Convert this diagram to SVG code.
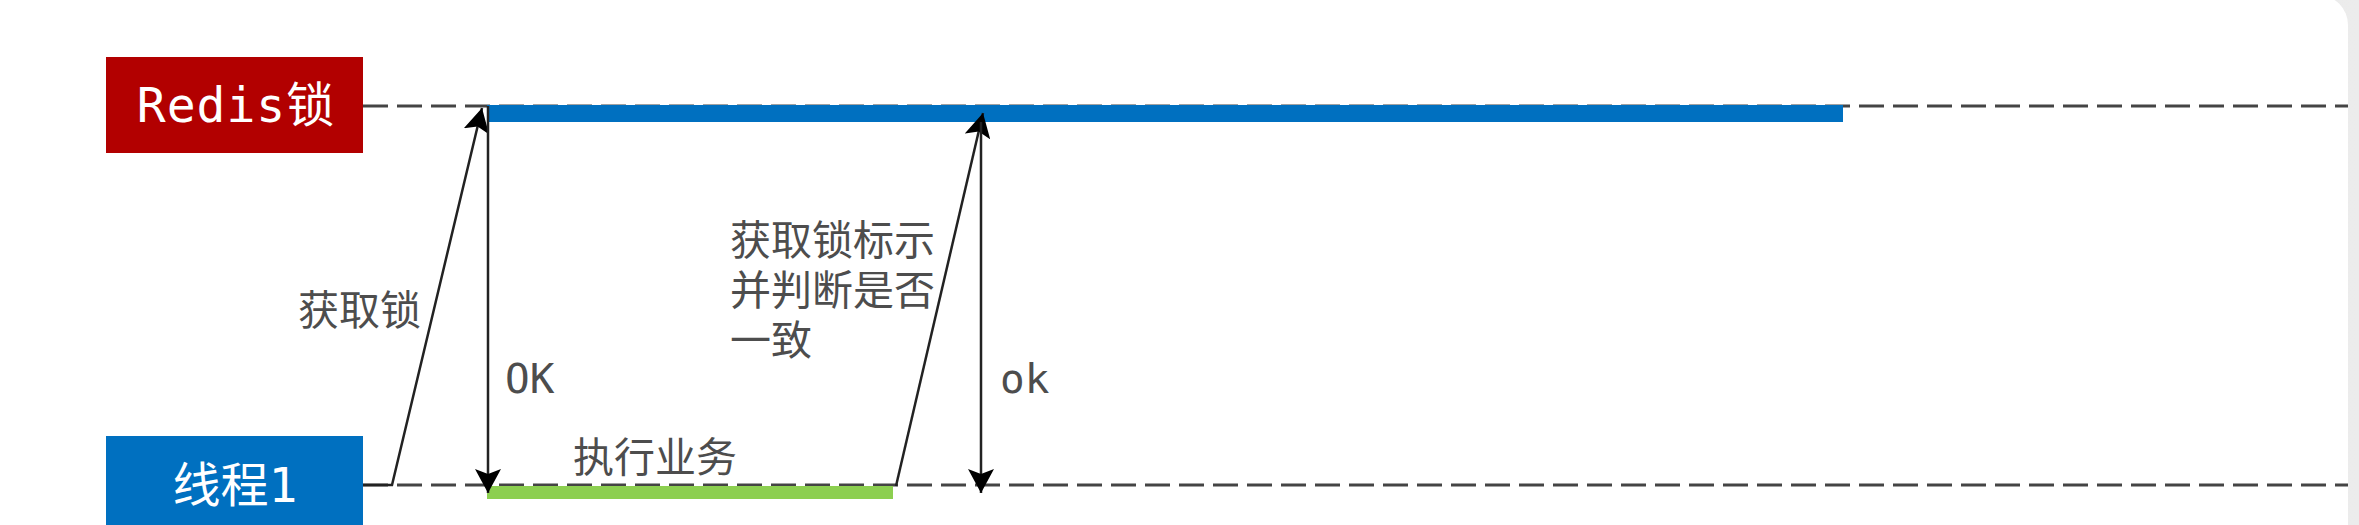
<svg xmlns="http://www.w3.org/2000/svg" width="2359" height="525" viewBox="0 0 2359 525">
<style>
.lbl{font-family:"DejaVu Sans Mono","Noto Sans CJK SC",monospace;fill:#4d4d4d;font-size:41px}
.cjk{font-family:"Noto Sans CJK SC","Noto Sans",sans-serif;fill:#4d4d4d;font-size:41px}
.box{font-family:"DejaVu Sans Mono","Noto Sans CJK SC",monospace;fill:#ffffff;font-size:48px;text-anchor:middle}
.life{stroke:#444;stroke-width:2.8;stroke-dasharray:25 9;fill:none}
.msg{stroke:#222;stroke-width:2.5;fill:none}
</style>
<defs>
<linearGradient id="sh" x1="0" y1="0" x2="1" y2="0">
<stop offset="0" stop-color="#cfcfcf"/>
<stop offset="1" stop-color="#ececec"/>
</linearGradient>
<marker id="ah" markerUnits="userSpaceOnUse" markerWidth="26" markerHeight="26" viewBox="0 0 26 26" refX="24" refY="13" orient="auto">
<path d="M0,0 L24,13 L0,26 L5,13 Z" fill="#000"/>
</marker>
</defs>
<rect x="0" y="0" width="2359" height="525" fill="url(#sh)"/>
<rect x="-40" y="-5" width="2388" height="600" rx="30" fill="#ffffff"/>
<g id="lifelines">
<line class="life" x1="363" y1="106" x2="2348" y2="106"/>
<line class="life" x1="363" y1="485" x2="2348" y2="485"/>
</g>
<g id="redis">
<rect x="106" y="57" width="257" height="96" fill="#b20000"/>
<text class="box" x="236" y="122" letter-spacing="1">Redis锁</text>
</g>
<g id="thread1">
<rect x="106" y="436" width="257" height="100" fill="#0070c0"/>
<text class="box" x="235" y="502">线程1</text>
</g>
<g id="lockbar">
<rect x="487" y="105" width="1356" height="17" fill="#0070c0"/>
</g>
<g id="workbar">
<rect x="487" y="486" width="406" height="13" fill="#8ccf50"/>
</g>
<g id="connectors">
<polyline class="msg" points="363,485 392,485 482,108" marker-end="url(#ah)"/>
<line class="msg" x1="488" y1="106" x2="488" y2="493" marker-end="url(#ah)"/>
<line class="msg" x1="896" y1="486" x2="983" y2="113" marker-end="url(#ah)"/>
<line class="msg" x1="981" y1="122" x2="981" y2="493" marker-end="url(#ah)"/>
</g>
<g id="labels">
<text class="cjk" x="298" y="325">获取锁</text>
<text class="lbl" x="505" y="393">OK</text>
<text class="cjk" x="573" y="472">执行业务</text>
<text class="cjk" x="730" y="255">获取锁标示<tspan x="730" dy="50">并判断是否</tspan><tspan x="730" dy="50">一致</tspan></text>
<text class="lbl" x="1000" y="393">ok</text>
</g>
</svg>
